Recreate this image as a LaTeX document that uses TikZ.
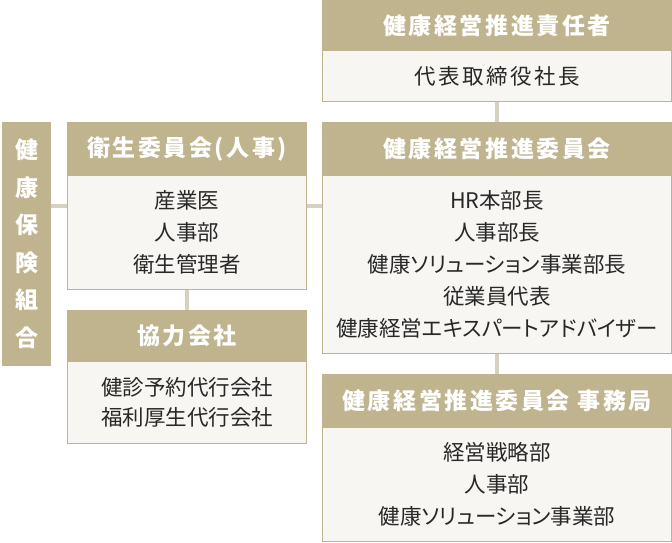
\documentclass[tikz,border=0pt]{standalone}
\usepackage{fontspec}
\usepackage{xcolor}
\usepackage{tikz}
\setmainfont{Noto Sans CJK JP}
\newfontfamily\headfont{Noto Sans CJK JP}[LetterSpace=11,RawFeature=+palt]
\newfontfamily\bodyfont{Noto Sans CJK JP}[LetterSpace=0,RawFeature=+palt]
\newfontfamily\wideface{Noto Sans CJK JP}[LetterSpace=12]
\definecolor{gold}{RGB}{192,180,143}
\definecolor{paper}{RGB}{247,246,242}
\definecolor{ink}{RGB}{40,40,40}
\definecolor{linkgray}{RGB}{214,209,195}

\begin{document}
\begin{tikzpicture}[x=1pt,y=-1pt,
    head/.style={fill=gold,draw=gold,line width=1pt,text=white,inner sep=0pt,anchor=north west,
      font=\headfont\bfseries\fontsize{23}{26}\selectfont},
    body/.style={fill=paper,draw=gold,line width=1pt,text=ink,inner sep=0pt,anchor=north west,align=center,
      font=\bodyfont\fontsize{21.5}{32}\selectfont},
    link/.style={draw=linkgray,line width=4pt}]
  \useasboundingbox (0,0) rectangle (672,542);

  % right column
  \node[head,minimum width=349pt,minimum height=50pt] (sekininH) at (322,0) {健康経営推進責任者};
  \node[body,minimum width=349pt,minimum height=51pt,font=\wideface\fontsize{21.5}{32}\selectfont] (sekininB) at (322,50) {代表取締役社長};
  \node[head,minimum width=349pt,minimum height=53pt] (iinkaiH) at (322,122) {健康経営推進委員会};
  \node[body,minimum width=349pt,minimum height=178pt] (iinkaiB) at (322,175)
    {HR本部長\\人事部長\\健康ソリューション事業部長\\従業員代表\\健康経営エキスパートアドバイザー};
  \node[head,minimum width=349pt,minimum height=53pt] (jimuH) at (322,374) {健康経営推進委員会 事務局};
  \node[body,minimum width=349pt,minimum height=114pt] (jimuB) at (322,427)
    {経営戦略部\\人事部\\健康ソリューション事業部};

  % left column
  \node[head,minimum width=239pt,minimum height=53pt] (eiseiH) at (67,122) {衛生委員会(人事)};
  \node[body,minimum width=239pt,minimum height=114pt] (eiseiB) at (67,175) {産業医\\人事部\\衛生管理者};
  \node[head,minimum width=239pt,minimum height=51pt] (kyoryokuH) at (67,310) {協力会社};
  \node[body,minimum width=239pt,minimum height=82pt,font=\bodyfont\fontsize{21.5}{30}\selectfont] (kyoryokuB) at (67,361)
    {健診予約代行会社\\福利厚生代行会社};

  \node[head,minimum width=48pt,minimum height=243pt,align=center,
    font=\headfont\bfseries\fontsize{23}{37.5}\selectfont] (kumiai) at (2,122) {健\\康\\保\\険\\組\\合};

  % connectors
  \draw[link] (sekininB.south) -- (iinkaiH.north);
  \draw[link] (iinkaiB.south) -- (jimuH.north);
  \draw[link] (eiseiB.south) -- (kyoryokuH.north);
  \draw[link] (kumiai.east |- 0,206) -- (eiseiB.west |- 0,206);
  \draw[link] (eiseiB.east |- 0,206) -- (iinkaiB.west |- 0,206);
\end{tikzpicture}
\end{document}
